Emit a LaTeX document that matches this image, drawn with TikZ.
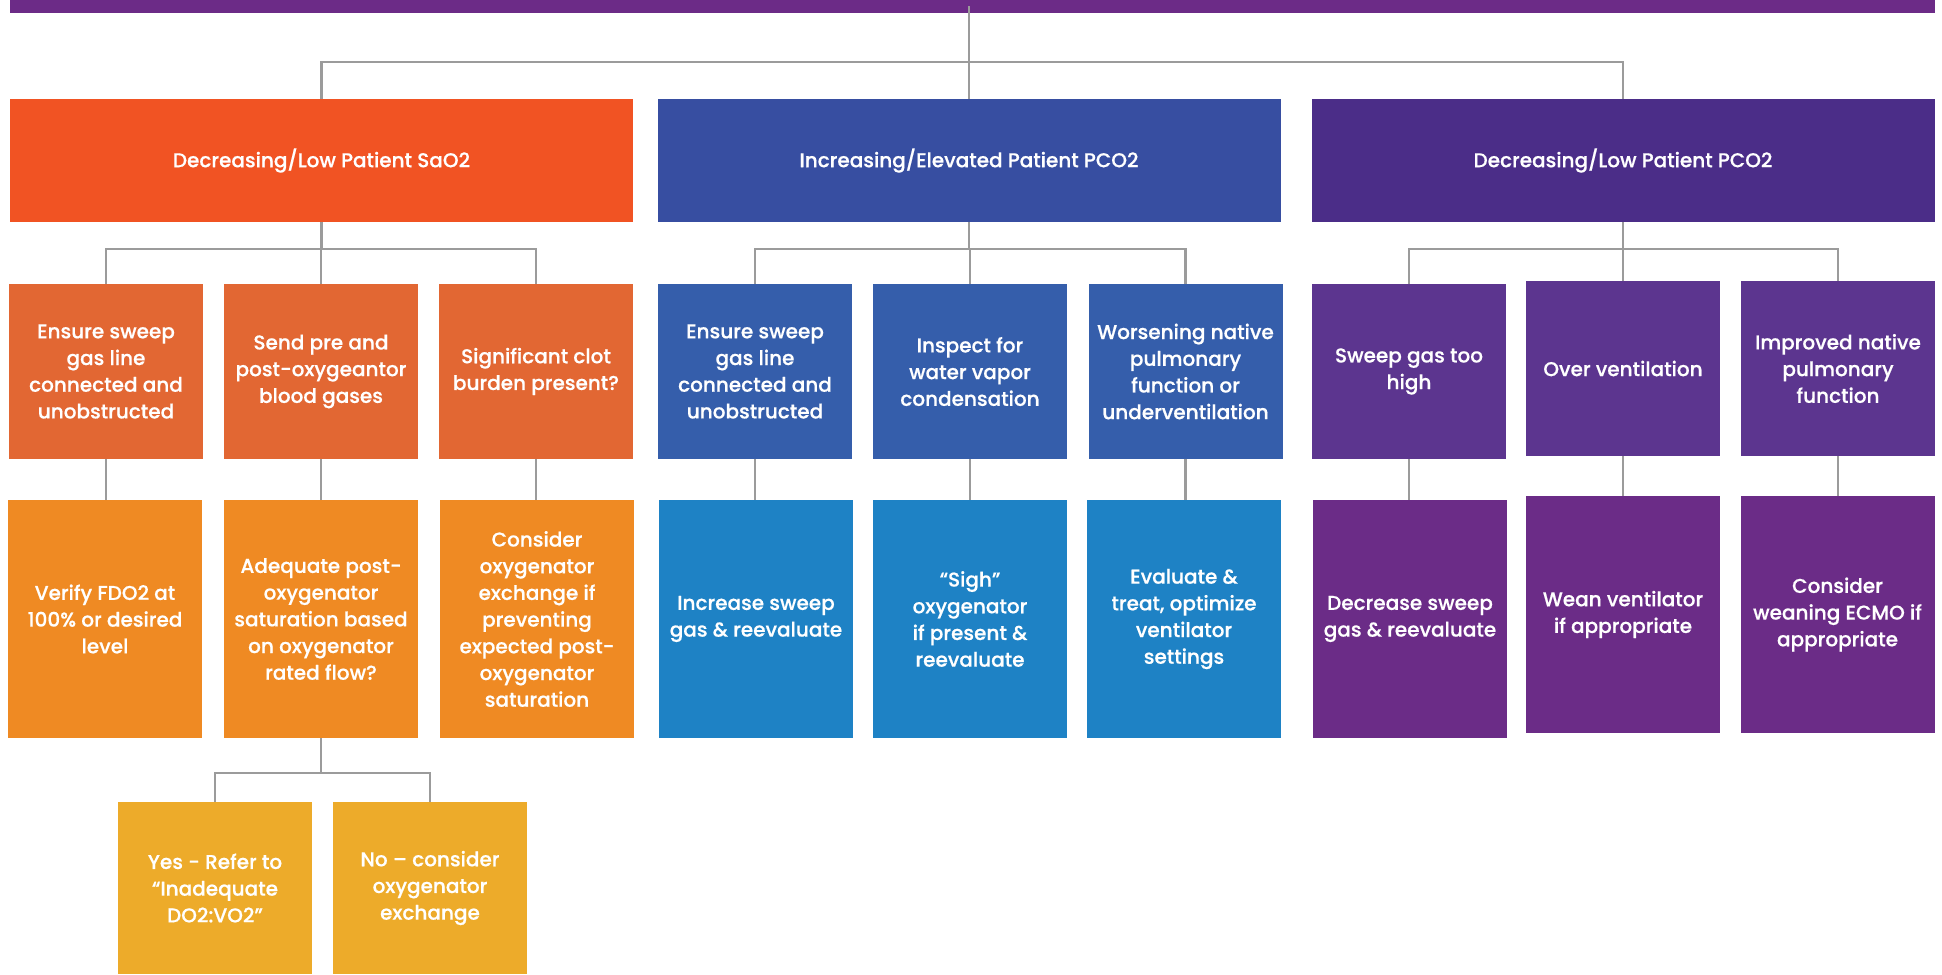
\documentclass[tikz,border=0pt]{standalone}
\usepackage{fontspec}
\IfFontExistsTF{Poppins Medium}{\newfontfamily\boxfont{Poppins Medium}[FakeBold=0.5]}{\newfontfamily\boxfont{Poppins}[FakeBold=1.2]}
\definecolor{topc}{HTML}{6C2B87}
\definecolor{oA}{HTML}{F15323}
\definecolor{bA}{HTML}{374EA1}
\definecolor{pA}{HTML}{4B2D88}
\definecolor{oB}{HTML}{E26733}
\definecolor{bB}{HTML}{355EAB}
\definecolor{pB}{HTML}{5C358F}
\definecolor{oC}{HTML}{EF8A23}
\definecolor{bC}{HTML}{1E82C5}
\definecolor{pC}{HTML}{6B2C87}
\definecolor{yD}{HTML}{EDAB2A}
\definecolor{linec}{HTML}{9B9B9B}
\tikzset{
  box/.style={rectangle, inner sep=0pt, draw=none, text=white, align=center,
    font={\boxfont\fontsize{20}{26.7}\selectfont}, minimum width=194pt},
  lvlone/.style={box, minimum width=623pt, minimum height=123pt},
  lvltwo/.style={box, minimum height=175pt},
  lvlthree/.style={box, minimum height=238pt},
  lvlfour/.style={box, minimum height=172pt, fill=yD},
  conn/.style={draw=linec, line width=2.2pt},
}
\begin{document}
\begin{tikzpicture}[x=1pt, y=-1pt]
\useasboundingbox (0,0) rectangle (1942,974);
% top bar
\node[rectangle, inner sep=0pt, fill=topc, minimum width=1924.5pt, minimum height=13pt] (top) at (972.25,6.5) {};
% bus levels
\coordinate (bus0) at (0,62);
\coordinate (bus1) at (0,249);
\coordinate (bus4) at (0,773);
% level 1
\node[lvlone, fill=oA] (L1a) at (321.5,160.5) {Decreasing/Low Patient SaO2};
\node[lvlone, fill=bA] (L1b) at (969,160.5) {Increasing/Elevated Patient PCO2};
\node[lvlone, fill=pA] (L1c) at (1623,160.5) {Decreasing/Low Patient PCO2};
% level 2
\node[lvltwo, fill=oB] (A1) at (106,371.5) {Ensure sweep\\gas line\\connected and\\unobstructed};
\node[lvltwo, fill=oB] (A2) at (321,371.5) {Send pre and\\post-oxygeantor\\blood gases};
\node[lvltwo, fill=oB] (A3) at (536,371.5) {Significant clot\\burden present?};
\node[lvltwo, fill=bB] (B1) at (755,371.5) {Ensure sweep\\gas line\\connected and\\unobstructed};
\node[lvltwo, fill=bB] (B2) at (970,371.5) {Inspect for\\water vapor\\condensation};
\node[lvltwo, fill=bB] (B3) at (1185.5,371.5) {Worsening native\\pulmonary\\function or\\underventilation};
\node[lvltwo, fill=pB] (C1) at (1409,371.5) {Sweep gas too\\high};
\node[lvltwo, fill=pB] (C2) at (1623,368.5) {Over ventilation};
\node[lvltwo, fill=pB] (C3) at (1838,368.5) {Improved native\\pulmonary\\function};
% level 3
\node[lvlthree, fill=oC] (A4) at (105,619) {Verify FDO2 at\\100\% or desired\\level};
\node[lvlthree, fill=oC] (A5) at (321,619) {Adequate post-\\oxygenator\\saturation based\\on oxygenator\\rated flow?};
\node[lvlthree, fill=oC] (A6) at (537,619) {Consider\\oxygenator\\exchange if\\preventing\\expected post-\\oxygenator\\saturation};
\node[lvlthree, fill=bC] (B4) at (756,619) {Increase sweep\\gas \& reevaluate};
\node[lvlthree, fill=bC] (B5) at (970,619) {“Sigh”\\oxygenator\\if present \&\\reevaluate};
\node[lvlthree, fill=bC] (B6) at (1184,619) {Evaluate \&\\treat, optimize\\ventilator\\settings};
\node[lvlthree, fill=pC] (C4) at (1410,619) {Decrease sweep\\gas \& reevaluate};
\node[lvlthree, fill=pC, minimum height=237pt] (C5) at (1623,614.5) {Wean ventilator\\if appropriate};
\node[lvlthree, fill=pC, minimum height=237pt] (C6) at (1837.5,614.5) {Consider\\weaning ECMO if\\appropriate};
% level 4
\node[lvlfour] (D1) at (215,888) {Yes - Refer to\\“Inadequate\\DO2:VO2”};
\node[lvlfour] (D2) at (430,888) {No – consider\\oxygenator\\exchange};
% connectors: top
\draw[conn] (L1b.north |- top.center) -- (L1b.north);
\draw[conn] (L1a.north) -- (L1a.north |- bus0) -- (L1c.north |- bus0) -- (L1c.north);
% level 1 -> 2
\draw[conn] (L1a.south) -- (L1a.south |- bus1);
\draw[conn] (A1.north) -- (A1.north |- bus1) -- (A3.north |- bus1) -- (A3.north);
\draw[conn] (A2.north |- bus1) -- (A2.north);
\draw[conn] (L1b.south) -- (L1b.south |- bus1);
\draw[conn] (B1.north) -- (B1.north |- bus1) -- (B3.north |- bus1) -- (B3.north);
\draw[conn] (B2.north |- bus1) -- (B2.north);
\draw[conn] (L1c.south) -- (L1c.south |- bus1);
\draw[conn] (C1.north) -- (C1.north |- bus1) -- (C3.north |- bus1) -- (C3.north);
\draw[conn] (C2.north |- bus1) -- (C2.north);
% level 2 -> 3
\foreach \u/\v in {A1/A4,A2/A5,A3/A6,B1/B4,B2/B5,B3/B6,C1/C4,C2/C5,C3/C6}{
  \draw[conn] (\u.south) -- (\u.south |- \v.north);
}
% level 3 -> 4
\draw[conn] (A5.south) -- (A5.south |- bus4);
\draw[conn] (D1.north) -- (D1.north |- bus4) -- (D2.north |- bus4) -- (D2.north);
\end{tikzpicture}
\end{document}
